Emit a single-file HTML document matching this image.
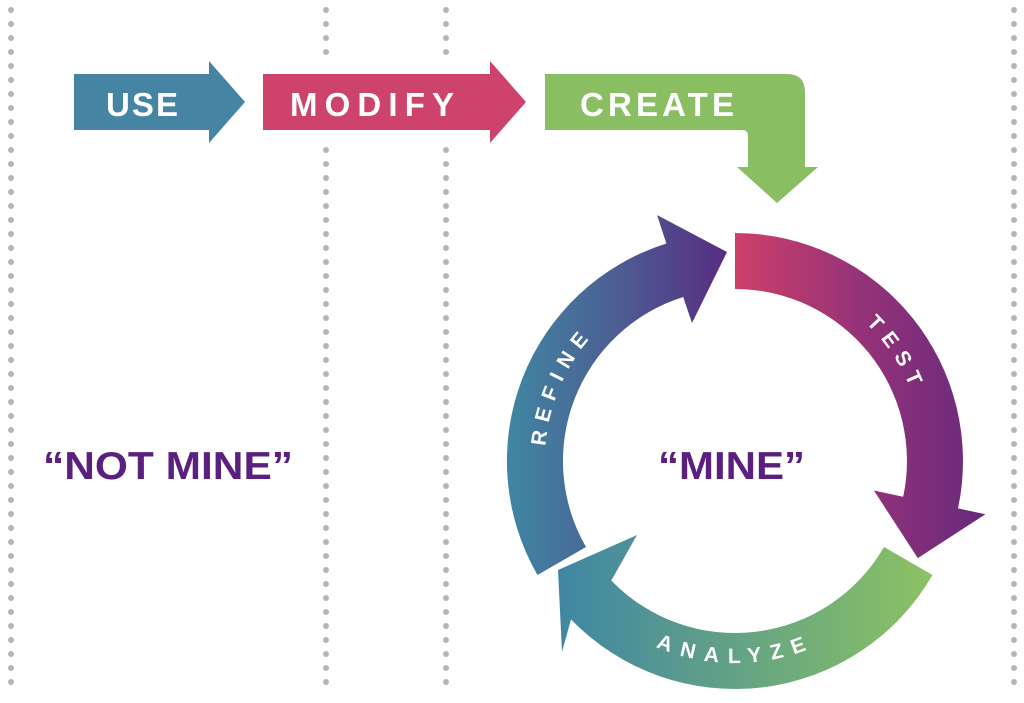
<!DOCTYPE html>
<html><head><meta charset="utf-8"><style>
html,body{margin:0;padding:0;background:#fff;}
svg{display:block;}
text{font-family:"Liberation Sans",sans-serif;font-weight:bold;}
</style></head><body>
<svg width="1024" height="703" viewBox="0 0 1024 703" xmlns="http://www.w3.org/2000/svg">
<defs>
<linearGradient id="gT" gradientUnits="userSpaceOnUse" x1="735" y1="0" x2="985" y2="0">
<stop offset="0" stop-color="#cd406a"/><stop offset="0.5" stop-color="#953278"/><stop offset="1" stop-color="#662a7c"/></linearGradient>
<linearGradient id="gA" gradientUnits="userSpaceOnUse" x1="932" y1="0" x2="558" y2="0">
<stop offset="0" stop-color="#8cc262"/><stop offset="1" stop-color="#3f86a4"/></linearGradient>
<linearGradient id="gR" gradientUnits="userSpaceOnUse" x1="507" y1="0" x2="727" y2="0">
<stop offset="0" stop-color="#3f86a2"/><stop offset="0.5" stop-color="#4d5e93"/><stop offset="1" stop-color="#582c82"/></linearGradient>
<path id="cw" d="M735,271 A190,190 0 1 1 734.9,271"/>
<path id="ccw" d="M547,461 A188,188 0 0 0 923,461"/>
</defs>
<g fill="#b5b5b5">
<g id="dl"></g>
</g>
<script>
(function(){var g=document.getElementById('dl');var ns='http://www.w3.org/2000/svg';
function col(x,skip){for(var y=10;y<=692;y+=14){if(skip&&y>58&&y<150)continue;var c=document.createElementNS(ns,'circle');c.setAttribute('cx',x);c.setAttribute('cy',y);c.setAttribute('r',3);g.appendChild(c);}}
col(11,false);col(326,true);col(446,true);col(1014,false);})();
</script>
<!-- USE -->
<path d="M74,74 H209 V61 L245,102 L209,143 V130 H74 Z" fill="#4585a3"/>
<text x="106" y="116" font-size="33" fill="#fff" textLength="72" lengthAdjust="spacing">USE</text>
<!-- MODIFY -->
<path d="M263,74 H490 V61 L526,102 L490,143 V130 H263 Z" fill="#cd436b"/>
<text x="290" y="116" font-size="33" fill="#fff" textLength="164" lengthAdjust="spacing">MODIFY</text>
<!-- CREATE -->
<path d="M545,74 H787 Q805,74 805,92 V167 H818 L777,203 L737,167 H748 V136 Q748,130 742,130 H545 Z" fill="#8abe63"/>
<text x="580" y="116" font-size="33" fill="#fff" textLength="154" lengthAdjust="spacing">CREATE</text>
<!-- cycle -->
<path d="M735,233 A228,228 0 0 1 958,508.4 L985.4,514.2 L917.8,558.1 L873.9,490.5 L903.2,496.8 A172,172 0 0 0 735,289 Z" fill="url(#gT)"/>
<path d="M932.5,575 A228,228 0 0 1 571,619.4 L562,652 L558,570 L637,535 L611.3,580.5 A172,172 0 0 0 884,547 Z" fill="url(#gA)"/>
<path d="M537.5,575 A228,228 0 0 1 666.4,243.5 L657,215 L727,252 L692,323 L683.2,297 A172,172 0 0 0 586,547 Z" fill="url(#gR)"/>
<text font-size="21" fill="#fff" letter-spacing="8" text-anchor="middle"><textPath href="#cw" startOffset="187">TEST</textPath></text>
<text font-size="21" fill="#fff" letter-spacing="8" text-anchor="middle"><textPath href="#cw" startOffset="972">REFINE</textPath></text>
<text font-size="21" fill="#fff" letter-spacing="8" text-anchor="middle" dominant-baseline="hanging"><textPath href="#ccw" startOffset="50%">ANALYZE</textPath></text>
<text x="658" y="479" font-size="39" fill="#5a1f7f" textLength="147" lengthAdjust="spacingAndGlyphs">“MINE”</text>
<text x="43" y="479" font-size="39" fill="#5a1f7f" textLength="250" lengthAdjust="spacingAndGlyphs">“NOT MINE”</text>
</svg>
</body></html>
